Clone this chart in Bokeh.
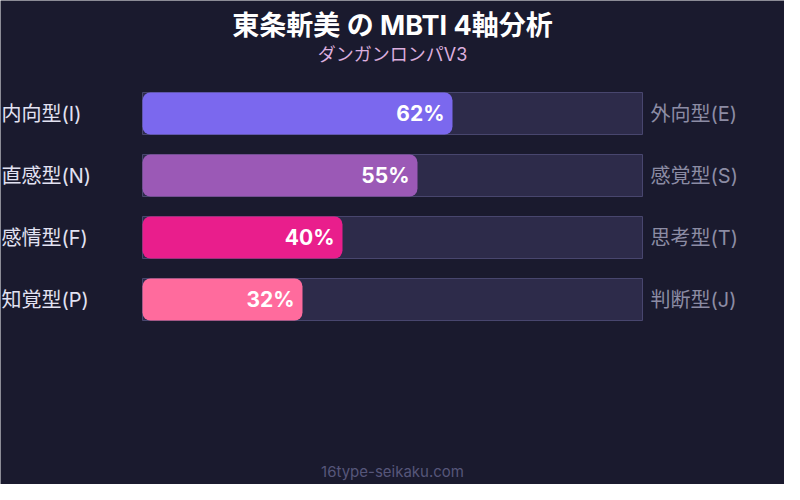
from bokeh.plotting import figure
from bokeh.models import Range1d, ColumnDataSource, Label
from bokeh.core.properties import value
from bokeh.embed import file_html
from bokeh.resources import INLINE

# ---- data ----
left_labels = ["内向型(I)", "直感型(N)", "感情型(F)", "知覚型(P)"]
right_labels = ["外向型(E)", "感覚型(S)", "思考型(T)", "判断型(J)"]
percents = [62, 55, 40, 32]
bar_colors = ["#7b68ee", "#9b59b6", "#e91e8c", "#ff6b9d"]
title_text = "東条斬美 の MBTI 4軸分析"
subtitle_text = "ダンガンロンパV3"
footer_text = "16type-seikaku.com"

W, H = 784, 484
BG = "#1a1a2e"
FONT = "Inter, 'Noto Sans CJK JP', sans-serif"

rows = list(range(len(percents)))
src = ColumnDataSource(dict(
    y=rows,
    pct=percents,
    zero=[0] * len(rows),
    full=[100] * len(rows),
    color=bar_colors,
    left=left_labels,
    right=right_labels,
    pct_text=[f"{v}%" for v in percents],
))

# x: 0% at 142px, 100% at 642px of the frame (5 px per percent)
x0 = (0 - 142) / 5.0
x1 = (W - 142) / 5.0
# y: row i center at 113 + 62*i px from frame top
y_top = (0 - 113) / 62.0
y_bot = (H - 113) / 62.0

p = figure(width=W, height=H, output_backend="svg", toolbar_location=None,
           x_range=Range1d(x0, x1), y_range=Range1d(y_bot, y_top),
           min_border=0, outline_line_color=None,
           background_fill_color=BG, border_fill_color=BG)
p.axis.visible = False
p.grid.visible = False

bh = 42 / 62.0
# track
p.hbar(y="y", left="zero", right="full", height=bh, source=src,
       fill_color="#2d2b4a", line_color="#48466e", line_width=1)
# fill
p.hbar(y="y", left="zero", right="pct", height=bh, source=src,
       fill_color="color", line_color=None, border_radius=8)

# percent labels inside fill
p.text(x="pct", y="y", text="pct_text", source=src, x_offset=-8,
       text_align="right", text_baseline="middle",
       text_font=value(FONT), text_font_size="21px", text_font_style="bold",
       text_color="#ffffff")
# left labels
p.text(x="zero", y="y", text="left", source=src, x_offset=-141,
       text_align="left", text_baseline="middle",
       text_font=value(FONT), text_font_size="20px", text_color="#e2e2f2")
# right labels
p.text(x="full", y="y", text="right", source=src, x_offset=8,
       text_align="left", text_baseline="middle",
       text_font=value(FONT), text_font_size="20px", text_color="#8c8ca4")

# title / subtitle / footer
p.add_layout(Label(x=W / 2, y=H - 25, x_units="screen", y_units="screen",
                   text=title_text, text_align="center", text_baseline="middle",
                   text_font=FONT, text_font_size="27px", text_font_style="bold",
                   text_color="#ffffff"))
p.add_layout(Label(x=W / 2, y=H - 54, x_units="screen", y_units="screen",
                   text=subtitle_text, text_align="center", text_baseline="middle",
                   text_font=FONT, text_font_size="18px",
                   text_color="#dcaede"))
p.add_layout(Label(x=W / 2, y=13, x_units="screen", y_units="screen",
                   text=footer_text, text_align="center", text_baseline="middle",
                   text_font=FONT, text_font_size="15px",
                   text_color="#56567a"))

open("out.html", "w").write(file_html(p, INLINE))
